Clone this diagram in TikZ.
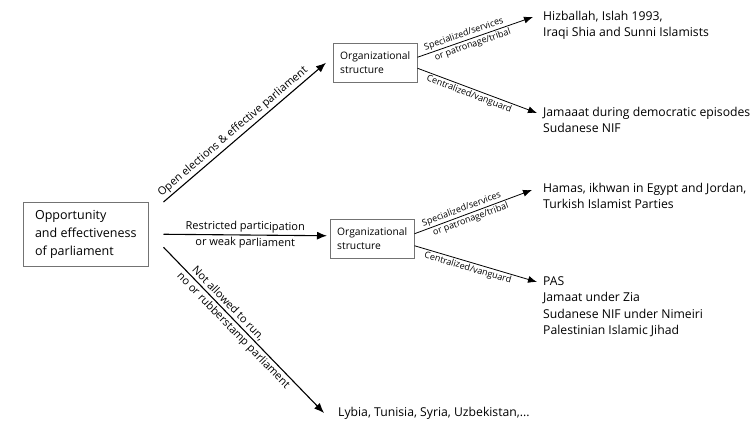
\documentclass[tikz,border=0pt]{standalone}
\usepackage{fontspec}
\setmainfont{Open Sans}
\usetikzlibrary{arrows.meta}
\tikzset{
  mainbox/.style={draw=black!55, line width=0.5pt, align=left, font=\fontsize{12.5}{18}\selectfont, minimum width=125pt, minimum height=64pt, inner sep=0pt, anchor=north west},
  orgbox/.style={draw=black!55, line width=0.5pt, align=left, font=\fontsize{10.3}{14}\selectfont, minimum width=84pt, minimum height=39pt, inner sep=0pt, anchor=north west},
  result/.style={align=left, anchor=north west, inner sep=0pt, font=\fontsize{12.2}{16.5}\selectfont},
  bigarrow/.style={line width=1.1pt, -{Latex[length=10pt,width=8pt]}},
  smallarrow/.style={line width=0.8pt, -{Latex[length=9pt,width=7pt]}},
  biglabel/.style={font=\fontsize{11}{12}\selectfont, sloped, inner sep=2pt},
  smalllabel/.style={font=\fontsize{9}{10}\selectfont, sloped, inner sep=1.5pt},
}
\begin{document}
\begin{tikzpicture}[x=1pt,y=-1pt]
\path[use as bounding box, fill=white] (0,0) rectangle (756,423);

\node[mainbox] (main) at (23,202) {Opportunity\\and effectiveness\\of parliament};
\node[orgbox] (org1) at (333,43) {Organizational\\structure};
\node[orgbox] (org2) at (330,219) {Organizational\\structure};

\node[result] (hiz) at (543,11) {Hizballah, Islah 1993,\\Iraqi Shia and Sunni Islamists};
\node[result] (jam) at (543,107) {Jamaaat during democratic episodes\\Sudanese NIF};
\node[result] (ham) at (543,183) {Hamas, ikhwan in Egypt and Jordan,\\Turkish Islamist Parties};
\node[result] (pas) at (543,276) {PAS\\Jamaat under Zia\\Sudanese NIF under Nimeiri\\Palestinian Islamic Jihad};
\node[result, anchor=west] (lyb) at (338,413) {Lybia, Tunisia, Syria, Uzbekistan,...};

\draw[bigarrow] ([xshift=15pt]main.north east) --
  node[biglabel, above, pos=0.46] {Open elections \& effective parliament}
  ([xshift=-7pt]org1.west);
\draw[bigarrow] ([xshift=15pt]main.east) --
  node[biglabel, above, pos=0.5] {Restricted participation}
  node[biglabel, below, pos=0.5] {or weak parliament}
  ([xshift=-3pt,yshift=3pt]org2.west);
\draw[bigarrow] ([xshift=15pt,yshift=-13pt]main.east) --
  node[biglabel, above, pos=0.37] {Not allowed to run,}
  node[biglabel, below, pos=0.47] {no or rubberstamp parliament}
  ([xshift=-14pt]lyb.west);

\draw[smallarrow] ([yshift=5.5pt]org1.east) --
  node[smalllabel, above, pos=0.42] {Specialized/services}
  node[smalllabel, below, pos=0.46] {or patronage/tribal}
  ([xshift=-10pt,yshift=-6pt]hiz.north west);
\draw[smallarrow] ([yshift=-5.5pt]org1.east) --
  node[smalllabel, below, pos=0.45] {Centralized/vanguard}
  ([xshift=-6pt,yshift=-6pt]jam.north west);
\draw[smallarrow] ([yshift=5pt]org2.east) --
  node[smalllabel, above, pos=0.42] {Specialized/services}
  node[smalllabel, below, pos=0.46] {or patronage/tribal}
  ([xshift=-11pt,yshift=-7pt]ham.north west);
\draw[smallarrow] ([yshift=-7pt]org2.east) --
  node[smalllabel, below, pos=0.45] {Centralized/vanguard}
  ([xshift=-6pt,yshift=-6pt]pas.north west);
\end{tikzpicture}
\end{document}
